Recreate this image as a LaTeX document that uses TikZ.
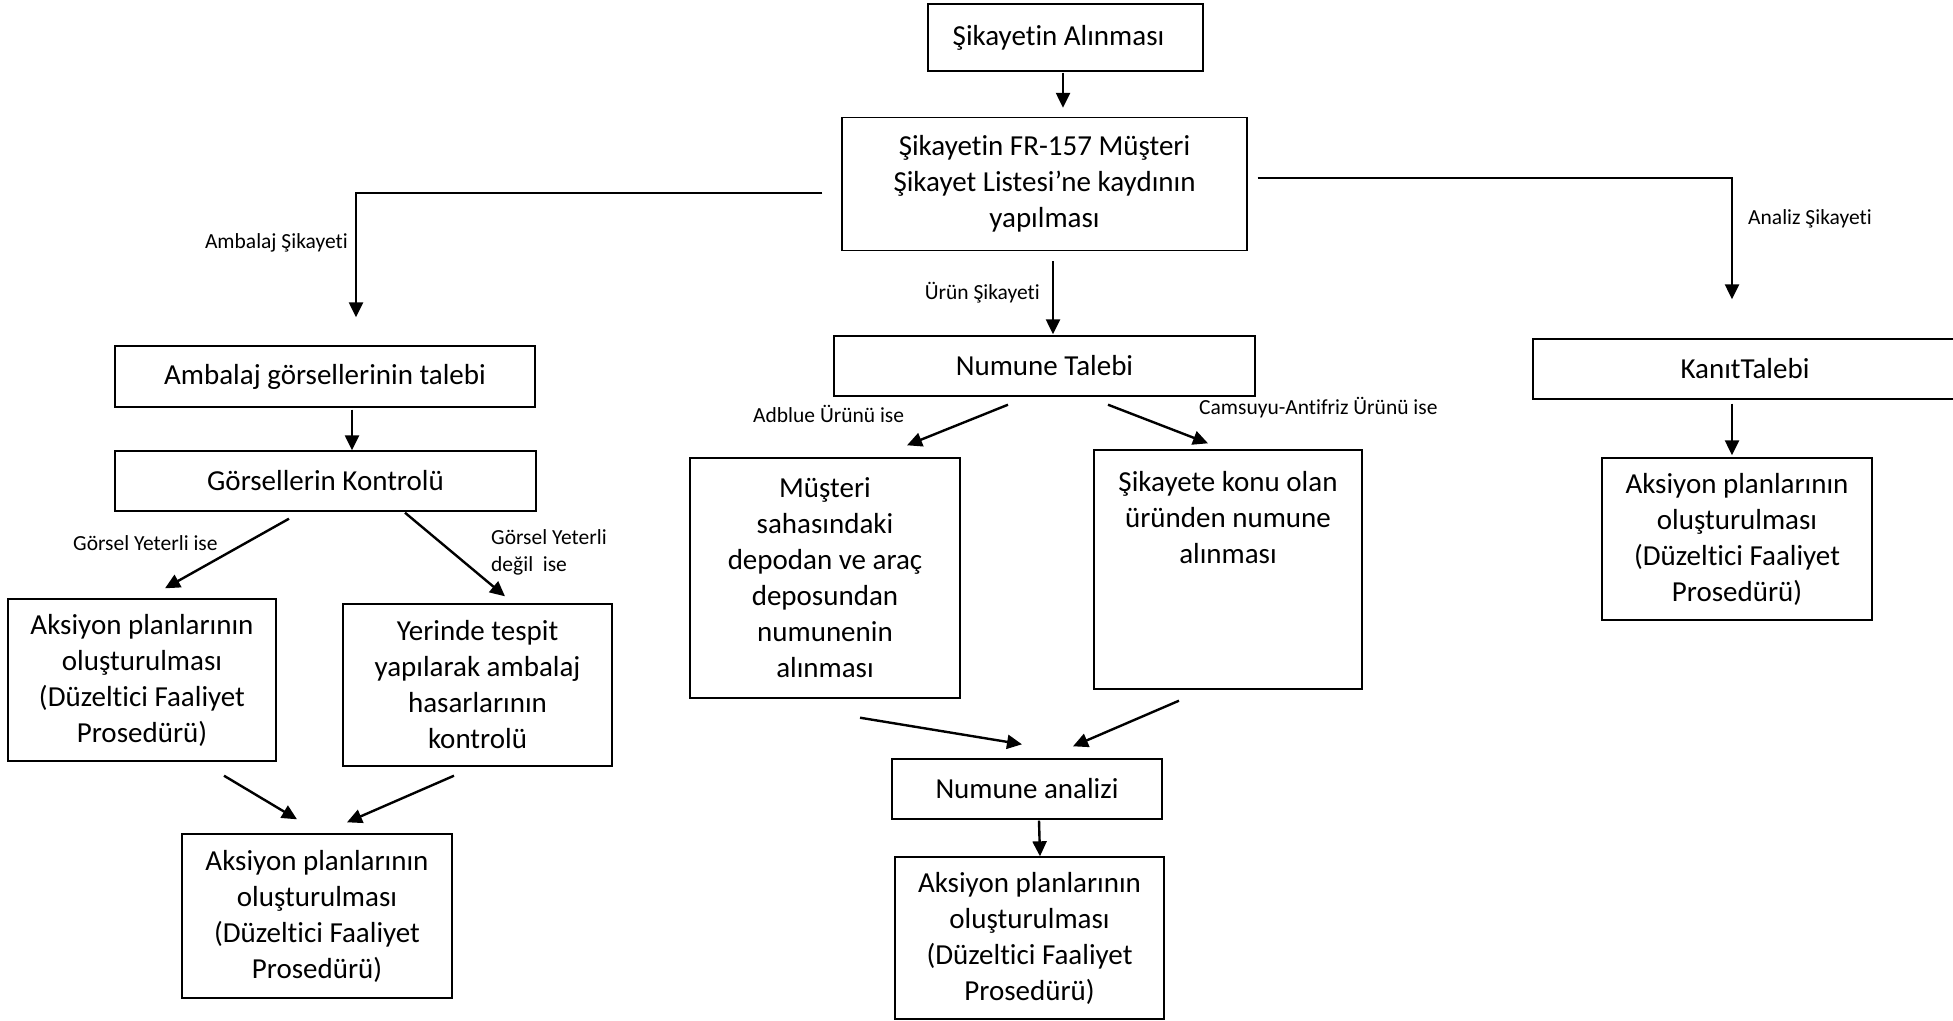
\documentclass[tikz,border=0pt]{standalone}
\usepackage{fontspec}
\setmainfont{Carlito}[Ligatures=NoCommon]
\usetikzlibrary{arrows.meta}
\begin{document}
\begin{tikzpicture}[x=1pt,y=-1pt,
 box/.style={draw=black, line width=1.4pt, align=center, inner sep=0pt, font=\fontsize{29}{36}\selectfont},
 btxt/.style={align=center, inner sep=0pt, font=\fontsize{29}{36}\selectfont},
 lbl/.style={inner sep=0pt, font=\fontsize{21.5}{27}\selectfont, align=left},
 arr/.style={line width=2.4pt, -{Triangle[length=15pt,width=14pt]}}]
\useasboundingbox (0,0) rectangle (1953,1020);

% boxes
\node[box, minimum width=275pt, minimum height=67pt] (a) at (1065.5,37.5) {Şikayetin Alınması\hspace{14pt}};
\node[box, minimum width=405pt, minimum height=133pt] (b) at (1044.5,184) {Şikayetin FR-157 Müşteri\\Şikayet Listesi’ne kaydının\\yapılması};
\node[box, minimum width=420pt, minimum height=61pt] (amb) at (325,376.5) {Ambalaj görsellerinin talebi};
\node[box, minimum width=421pt, minimum height=60pt] (gor) at (325.5,481) {Görsellerin Kontrolü};
\node[box, minimum width=268pt, minimum height=162pt] (ak1) at (142,680) {Aksiyon planlarının\\oluşturulması\\(Düzeltici Faaliyet\\Prosedürü)};
\node[box, minimum width=269pt, minimum height=162pt] (yer) at (477.5,685) {Yerinde tespit\\yapılarak ambalaj\\hasarlarının\\kontrolü};
\node[box, minimum width=270pt, minimum height=164pt] (ak2) at (317,916) {Aksiyon planlarının\\oluşturulması\\(Düzeltici Faaliyet\\Prosedürü)};
\node[box, minimum width=421pt, minimum height=60pt] (nt) at (1044.5,366) {Numune Talebi};
\node[box, minimum width=270pt, minimum height=240pt] (mus) at (825,578) {Müşteri\\sahasındaki\\depodan ve araç\\deposundan\\numunenin\\alınması};
\node[box, minimum width=268pt, minimum height=239pt] (sik) at (1228,569.5) {};
\node[btxt] (sikt) at (1228,518) {Şikayete konu olan\\üründen numune\\alınması};
\node[box, minimum width=270pt, minimum height=60pt] (na) at (1027,789) {Numune analizi};
\node[box, minimum width=269pt, minimum height=162pt] (ak3) at (1029.5,938) {Aksiyon planlarının\\oluşturulması\\(Düzeltici Faaliyet\\Prosedürü)};
\node[box, minimum width=424pt, minimum height=60pt] (kan) at (1745,369) {KanıtTalebi};
\node[box, minimum width=270pt, minimum height=162pt] (ak4) at (1737,539) {Aksiyon planlarının\\oluşturulması\\(Düzeltici Faaliyet\\Prosedürü)};

% labels
\node[lbl, anchor=east] (l1) at (348,243) {Ambalaj Şikayeti};
\node[lbl, anchor=west] (l2) at (1748,219) {Analiz Şikayeti};
\node[lbl, anchor=east] (l3) at (1040,293) {Ürün Şikayeti};
\node[lbl, anchor=west] (l4) at (753,414) {Adblue Ürünü ise};
\node[lbl, anchor=west] (l5) at (1199,408) {Camsuyu-Antifriz Ürünü ise};
\node[lbl, anchor=west] (l6) at (73,543) {Görsel Yeterli ise};
\node[lbl, anchor=west] (l7) at (491,552) {Görsel Yeterli\\değil\ \ ise};

% connectors
\coordinate (a1) at ([xshift=-2.5pt]a.south);
\draw[arr, shorten <=1pt, shorten >=9pt] (a1) -- (a1 |- b.north);

\coordinate (b1) at ([shift={(-19pt,-9pt)}]b.west);
\coordinate (amb1) at ([xshift=31pt]amb.north);
\draw[arr, shorten >=28pt] (b1) -| (amb1);

\coordinate (b2) at ([shift={(10pt,6pt)}]b.east);
\coordinate (kan1) at ([xshift=-13pt]kan.north);
\draw[arr, shorten >=39pt] (b2) -| (kan1);

\coordinate (b3) at ([xshift=8.5pt]b.south);
\draw[arr, shorten <=10pt, shorten >=1pt] (b3) -- (b3 |- nt.north);

\coordinate (amb2) at ([xshift=27pt]amb.south);
\draw[arr, shorten <=2pt] (amb2) -- (amb2 |- gor.north);

\draw[arr] ([shift={(-36.5pt,-7pt)}]gor.south) -- ([shift={(23pt,10pt)}]ak1.north);
\draw[arr] ([shift={(79.5pt,-1pt)}]gor.south) -- ([shift={(27.5pt,7pt)}]yer.north);
\draw[arr] ([shift={(82pt,-14pt)}]ak1.south) -- ([shift={(-20pt,14pt)}]ak2.north);
\draw[arr] ([shift={(-23.5pt,-9pt)}]yer.south) -- ([shift={(30pt,11pt)}]ak2.north);

\draw[arr] ([shift={(-36.5pt,-8pt)}]nt.south) -- ([shift={(82pt,12pt)}]mus.north);
\draw[arr] ([shift={(63.5pt,-8pt)}]nt.south) -- ([shift={(-20pt,6pt)}]sik.north);
\draw[arr] ([shift={(35pt,-19pt)}]mus.south) -- ([shift={(-5pt,14pt)}]na.north);
\draw[arr] ([shift={(-49pt,-11pt)}]sik.south) -- ([shift={(46pt,12pt)}]na.north);
\draw[arr] ([shift={(12pt,-1pt)}]na.south) -- ([shift={(10.5pt,0pt)}]ak3.north);

\coordinate (kan2) at ([xshift=-13pt]kan.south);
\draw[arr, shorten <=4pt, shorten >=2pt] (kan2) -- (kan2 |- ak4.north);
\end{tikzpicture}
\end{document}
